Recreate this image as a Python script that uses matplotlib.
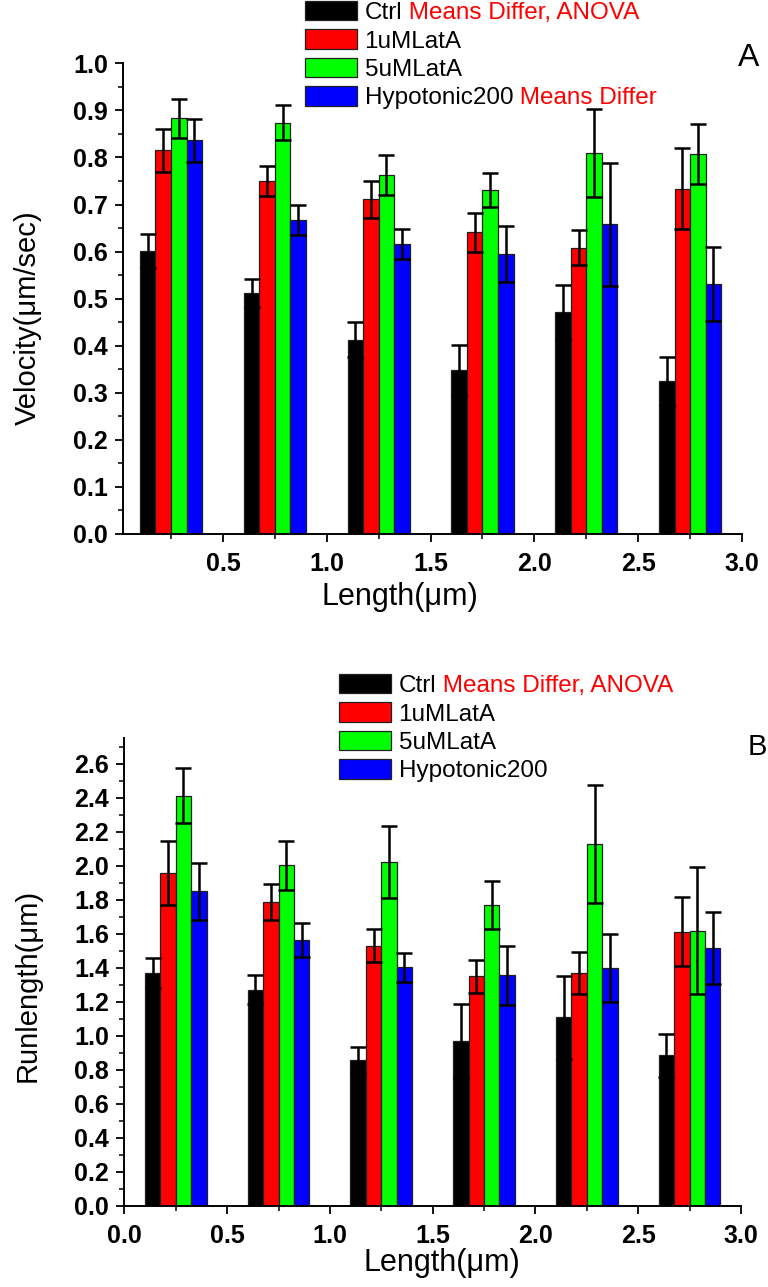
import numpy as np
import matplotlib.pyplot as plt
from matplotlib.ticker import MultipleLocator

plt.rcParams['font.family'] = ['Liberation Sans', 'DejaVu Sans']

# group positions (Length, um) and series names
lengths = [0.25, 0.75, 1.25, 1.75, 2.25, 2.75]
series = ['Ctrl', '1uMLatA', '5uMLatA', 'Hypotonic200']
colors = ['#000000', '#ff0000', '#00ff00', '#0000ff']

# panel A: velocity (um/sec)
vel_ctrl = [0.602, 0.512, 0.413, 0.348, 0.471, 0.326]
vel_1um = [0.815, 0.750, 0.711, 0.641, 0.608, 0.734]
vel_5um = [0.883, 0.874, 0.763, 0.731, 0.810, 0.807]
vel_hypo = [0.836, 0.667, 0.617, 0.595, 0.658, 0.531]
vel_ctrl_err = [0.036, 0.030, 0.037, 0.053, 0.057, 0.051]
vel_1um_err = [0.045, 0.031, 0.039, 0.042, 0.037, 0.086]
vel_5um_err = [0.042, 0.037, 0.042, 0.037, 0.093, 0.064]
vel_hypo_err = [0.046, 0.032, 0.032, 0.059, 0.131, 0.078]

# panel B: run length (um)
run_ctrl = [1.368, 1.270, 0.857, 0.969, 1.107, 0.883]
run_1um = [1.957, 1.786, 1.529, 1.348, 1.368, 1.612]
run_5um = [2.413, 2.003, 2.020, 1.769, 2.128, 1.617]
run_hypo = [1.849, 1.560, 1.401, 1.356, 1.397, 1.515]
run_ctrl_err = [0.088, 0.085, 0.075, 0.218, 0.242, 0.128]
run_1um_err = [0.190, 0.107, 0.098, 0.098, 0.126, 0.204]
run_5um_err = [0.163, 0.145, 0.212, 0.139, 0.346, 0.375]
run_hypo_err = [0.167, 0.100, 0.085, 0.173, 0.202, 0.214]

W, H = 768, 1287
fig = plt.figure(figsize=(W / 100, H / 100), dpi=100)

ax1 = fig.add_axes([123.3 / W, 1 - 534 / H, (742 - 123.3) / W, (534 - 63.3) / H])
ax2 = fig.add_axes([124.4 / W, 1 - 1205.5 / H, (741 - 124.4) / W, (1205.5 - 738.3) / H])

bw = 0.075
offsets = [-1.5 * bw, -0.5 * bw, 0.5 * bw, 1.5 * bw]
x = np.array(lengths)


def draw_bars(ax, vals, errs):
    handles = []
    for off, v, e, c in zip(offsets, vals, errs, colors):
        b = ax.bar(x + off, v, width=bw, color=c, edgecolor='#202020', linewidth=0.9, zorder=2)
        ax.errorbar(x + off, v, yerr=e, fmt='none', ecolor='black', elinewidth=1.8,
                    capsize=6, capthick=1.8, zorder=3)
        handles.append(b)
    return handles


h1 = draw_bars(ax1, [vel_ctrl, vel_1um, vel_5um, vel_hypo],
               [vel_ctrl_err, vel_1um_err, vel_5um_err, vel_hypo_err])
h2 = draw_bars(ax2, [run_ctrl, run_1um, run_5um, run_hypo],
               [run_ctrl_err, run_1um_err, run_5um_err, run_hypo_err])

ax1.set_xlim(0.02, 3.0)
ax1.set_ylim(0, 1.0)
ax1.yaxis.set_major_locator(MultipleLocator(0.1))
ax1.yaxis.set_minor_locator(MultipleLocator(0.05))
ax2.set_xlim(0, 3.0)
ax2.set_ylim(0, 2.75)
ax2.yaxis.set_major_locator(MultipleLocator(0.2))
ax2.yaxis.set_minor_locator(MultipleLocator(0.1))

for ax in (ax1, ax2):
    ax.xaxis.set_major_locator(MultipleLocator(0.5))
    ax.xaxis.set_minor_locator(MultipleLocator(0.25))
    ax.yaxis.set_major_formatter(plt.FormatStrFormatter('%.1f'))
    ax.xaxis.set_major_formatter(plt.FormatStrFormatter('%.1f'))
    for s in ('top', 'right'):
        ax.spines[s].set_visible(False)
    for s in ('left', 'bottom'):
        ax.spines[s].set_linewidth(1.4)
    ax.tick_params(which='major', direction='out', length=6, width=1.3)
    ax.tick_params(axis='x', which='major', pad=7)
    ax.tick_params(axis='y', which='major', pad=5)
    ax.tick_params(which='minor', direction='out', length=3.5, width=1.1)
    for lab in ax.get_xticklabels() + ax.get_yticklabels():
        lab.set_fontsize(18)
        lab.set_fontweight('bold')

# axis titles
fig.text(400 / W, 1 - 597 / H, 'Length(μm)', fontsize=22, ha='center', va='center')
fig.text(442 / W, 1 - 1263 / H, 'Length(μm)', fontsize=22, ha='center', va='center')
fig.text(28 / W, 1 - 318 / H, 'Velocity(μm/sec)', fontsize=21, rotation=90, ha='center', va='center')
fig.text(28 / W, 1 - 985 / H, 'Runlength(μm)', fontsize=21, rotation=90, ha='center', va='center')

# panel letters
fig.text(749 / W, 1 - 58 / H, 'A', fontsize=23, ha='center', va='center')
fig.text(757 / W, 1 - 747 / H, 'B', fontsize=21, ha='center', va='center')

# legends
red_notes = [
    [' Means Differ, ANOVA', None, None, ' Means Differ'],
    [' Means Differ, ANOVA', None, None, None],
]
legends = []
for ax, hs, (lx, ly) in zip((ax1, ax2), (h1, h2), ((305, 1), (339, 674))):
    leg = ax.legend(hs, series, loc='upper left', bbox_to_anchor=(lx / W, 1 - ly / H),
                    bbox_transform=fig.transFigure, frameon=False, fontsize=17.5,
                    handlelength=2.15, handleheight=0.85, handletextpad=0.3,
                    labelspacing=0.22, borderpad=0, borderaxespad=0)
    legends.append(leg)

fig.canvas.draw()
renderer = fig.canvas.get_renderer()
for leg, notes in zip(legends, red_notes):
    for txt, note in zip(leg.get_texts(), notes):
        if note:
            bb = txt.get_window_extent(renderer)
            fig.text(bb.x1 / W, bb.y0 / H, note, ha='left', va='bottom',
                     fontsize=17.5, color='red')

fig.savefig('out.png', dpi=100)
